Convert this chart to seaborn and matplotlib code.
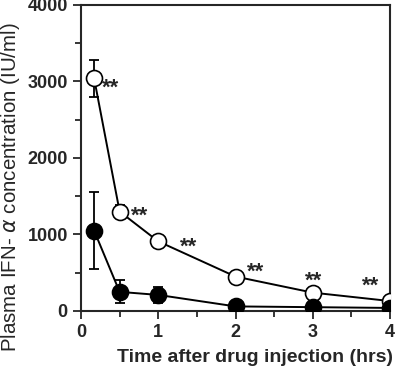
import seaborn as sns
import matplotlib.pyplot as plt
import pandas as pd

time_hrs = [0.17, 0.5, 1, 2, 3, 4]
open_mean = [3040, 1300, 910, 450, 240, 130]
open_err = [240, 90, 40, 30, 30, 20]
filled_mean = [1050, 250, 210, 60, 50, 40]
filled_err = [500, 150, 110, 20, 20, 15]
stars = ["**"] * 6
# offsets of the star centres from the open points, in pixels
star_offsets = [(16, -3), (20, 2), (30, 1), (20, 11), (1, 18), (-19, 21)]

sns.set_style("ticks")
plt.rcParams["font.family"] = ["Liberation Sans", "DejaVu Sans"]

fig = plt.figure(figsize=(4, 3.72), dpi=100)
ax = fig.add_axes([0.2025, 0.164, 0.7725, 0.8226])

df_open = pd.DataFrame({"t": time_hrs, "v": open_mean})
df_filled = pd.DataFrame({"t": time_hrs, "v": filled_mean})

for d, err, fc in [(df_open, open_err, "white"), (df_filled, filled_err, "black")]:
    ax.errorbar(d["t"], d["v"], yerr=err, fmt="none", ecolor="black",
                elinewidth=1.3, capsize=3.5, capthick=1.3, zorder=2)
    sns.lineplot(data=d, x="t", y="v", ax=ax, color="black", linewidth=1.4,
                 marker="o", markersize=11.5, markerfacecolor=fc,
                 markeredgecolor="black", markeredgewidth=1.2, zorder=3)

for t, v, s, (dx, dy) in zip(time_hrs, open_mean, stars, star_offsets):
    ax.annotate(s, (t, v), xytext=(dx, dy - 12), textcoords="offset pixels",
                ha="center", va="baseline", fontsize=16, fontweight="bold")

ax.set_xlim(0, 4)
ax.set_ylim(0, 4000)
ax.set_xticks([0, 1, 2, 3, 4])
ax.set_xticks([0.5, 1.5, 2.5, 3.5], minor=True)
ax.set_yticks([0, 1000, 2000, 3000, 4000])
ax.set_yticks([500, 1500, 2500, 3500], minor=True)
ax.tick_params(which="major", length=6, width=1.3, labelsize=13, direction="out")
ax.tick_params(which="minor", length=4, width=1.3, direction="out")
for lbl in ax.get_xticklabels() + ax.get_yticklabels():
    lbl.set_fontweight("bold")
for sp in ax.spines.values():
    sp.set_visible(True)
    sp.set_linewidth(1.5)

ax.set_xlabel("Time after drug injection (hrs)", fontsize=14, fontweight="bold")
ax.set_ylabel(r"Plasma IFN- $\alpha$ concentration (IU/ml)", fontsize=14.8)
ax.xaxis.set_label_coords(0.563, -0.125)
ax.yaxis.set_label_coords(-0.19, 0.405)

fig.savefig("out.png", dpi=100)
